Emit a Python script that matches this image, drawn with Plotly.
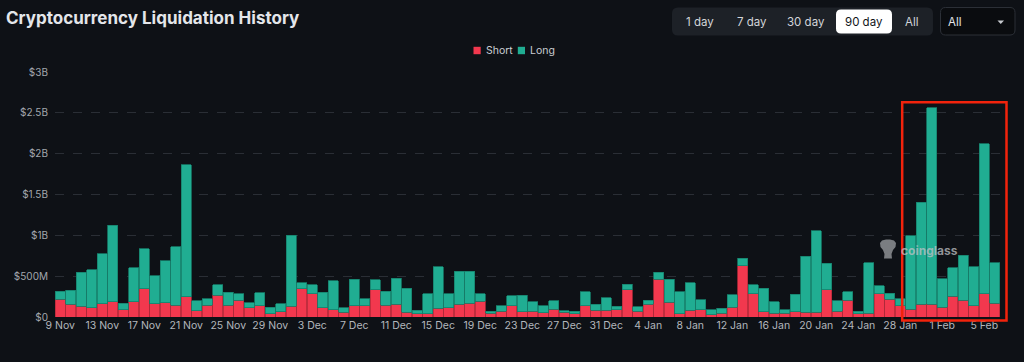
import pandas as pd
import plotly.graph_objects as go

# ---------------- data ----------------
dates = pd.date_range("2024-11-09", "2025-02-06", freq="D")

short_m = [216, 155, 131, 114, 163, 184, 90, 184, 343, 163, 176, 143, 249, 78, 143, 265,
           143, 204, 114, 135, 37, 65, 131, 343, 286, 114, 86, 61, 135, 135, 335, 143,
           159, 61, 41, 41, 110, 114, 159, 167, 192, 49, 73, 135, 65, 73, 53, 94,
           57, 37, 139, 82, 82, 90, 335, 69, 159, 461, 180, 41, 82, 86, 29, 45,
           118, 629, 286, 65, 49, 43, 63, 61, 61, 335, 73, 208, 41, 49, 286, 216,
           135, 94, 159, 159, 118, 257, 208, 139, 282, 171]

long_m = [102, 172, 416, 462, 609, 939, 81, 420, 490, 343, 510, 719, 1617, 118, 82, 131,
          163, 82, 62, 163, 81, 98, 873, 78, 106, 192, 359, 53, 326, 90, 122, 171,
          315, 294, 41, 245, 507, 168, 404, 396, 90, 20, 66, 126, 204, 115, 86, 106,
          21, 32, 171, 73, 151, 41, 69, 58, 45, 90, 285, 269, 339, 126, 61, 65,
          156, 90, 106, 286, 135, 43, 217, 686, 996, 322, 127, 102, 32, 617, 94, 74,
          90, 902, 1246, 2405, 352, 347, 551, 478, 1837, 495]

y_tick_vals = [0, 5e8, 1e9, 1.5e9, 2e9, 2.5e9, 3e9]
y_tick_text = ["$0", "$500M", "$1B", "$1.5B", "$2B", "$2.5B", "$3B"]

x_tick_text = ["9 Nov", "13 Nov", "17 Nov", "21 Nov", "25 Nov", "29 Nov", "3 Dec", "7 Dec",
               "11 Dec", "15 Dec", "19 Dec", "23 Dec", "27 Dec", "31 Dec", "4 Jan", "8 Jan",
               "12 Jan", "16 Jan", "20 Jan", "24 Jan", "28 Jan", "1 Feb", "5 Feb"]
x_tick_vals = list(dates[::4][:len(x_tick_text)])

series_names = ["Short", "Long"]
range_buttons = ["1 day", "7 day", "30 day", "90 day", "All"]

# ---------------- style ----------------
BG = "#0e1116"
RED = "#f2384e"
TEAL = "#20ad92"
GRID = "#2a2e35"
FONT = "Inter, Roboto, sans-serif"

W, H = 1024, 362
L, R, T, B = 55, 24, 72, 45
PW, PH = W - L - R, H - T - B


def px(x):
    return (x - L) / PW


def py(y):
    return (H - B - y) / PH


def rrect(x0, y0, x1, y1, r):
    pts = [("M", x0 + r, y0), ("L", x1 - r, y0), ("Q", x1, y0, x1, y0 + r),
           ("L", x1, y1 - r), ("Q", x1, y1, x1 - r, y1), ("L", x0 + r, y1),
           ("Q", x0, y1, x0, y1 - r), ("L", x0, y0 + r), ("Q", x0, y0, x0 + r, y0)]
    s = ""
    for p in pts:
        cmd = p[0]
        coords = p[1:]
        parts = []
        for i in range(0, len(coords), 2):
            parts.append(f"{px(coords[i]):.5f},{py(coords[i + 1]):.5f}")
        s += cmd + " ".join(parts) + " "
    return s + "Z"


def poly(points):
    s = "M" + " L".join(f"{px(a):.5f},{py(b):.5f}" for a, b in points)
    return s + " Z"


fig = go.Figure()
fig.add_trace(go.Bar(x=dates, y=[v * 1e6 for v in short_m], name=series_names[0],
                     marker=dict(color=RED, line=dict(color="#b52a3b", width=0.8)),
                     showlegend=False))
fig.add_trace(go.Bar(x=dates, y=[v * 1e6 for v in long_m], name=series_names[1],
                     marker=dict(color=TEAL, line=dict(color="#17806c", width=0.8)),
                     showlegend=False))

shapes = []
annotations = []

# Title
annotations.append(dict(text="<b>Cryptocurrency Liquidation History</b>", xref="paper", yref="paper",
                        x=px(4), y=py(18), xanchor="left", yanchor="middle", showarrow=False,
                        font=dict(family=FONT, size=17, color="#e4e6ea")))

# Range button group
shapes.append(dict(type="path", xref="paper", yref="paper", path=rrect(672, 7.5, 933, 35.5, 6),
                   fillcolor="#1d2127", line=dict(width=0), layer="above"))
shapes.append(dict(type="path", xref="paper", yref="paper", path=rrect(836, 9.5, 892, 33.5, 5),
                   fillcolor="#ffffff", line=dict(width=0), layer="above"))
btn_cx = [700, 751.7, 806, 864, 911.7]
for label, cx in zip(range_buttons, btn_cx):
    annotations.append(dict(text=label, xref="paper", yref="paper", x=px(cx), y=py(22),
                            xanchor="center", yanchor="middle", showarrow=False,
                            font=dict(family=FONT, size=11.5,
                                      color="#111418" if label == "90 day" else "#d2d5da")))

# Dropdown
shapes.append(dict(type="path", xref="paper", yref="paper", path=rrect(940.5, 7.5, 1015, 35, 5),
                   fillcolor="#0a0c0f", line=dict(color="#2c3037", width=1), layer="above"))
annotations.append(dict(text="All", xref="paper", yref="paper", x=px(945.5), y=py(22),
                        xanchor="left", yanchor="middle", showarrow=False,
                        font=dict(family=FONT, size=11.5, color="#e4e6ea")))
shapes.append(dict(type="path", xref="paper", yref="paper",
                   path=poly([(997.5, 20.5), (1004, 20.5), (1000.75, 24)]),
                   fillcolor="#c8cbd0", line=dict(width=0), layer="above"))

# Custom legend
for name, col, sx, tx in [(series_names[0], RED, 473.5, 484), (series_names[1], TEAL, 517.8, 528)]:
    shapes.append(dict(type="rect", xref="paper", yref="paper",
                       x0=px(sx), x1=px(sx + 7.2), y0=py(46.8), y1=py(54.2),
                       fillcolor=col, line=dict(width=0), layer="above"))
    annotations.append(dict(text=name, xref="paper", yref="paper", x=px(tx), y=py(50.5),
                            xanchor="left", yanchor="middle", showarrow=False,
                            font=dict(family=FONT, size=10.5, color="#c9cdd2")))

# Watermark
annotations.append(dict(text="<b>coinglass</b>", xref="paper", yref="paper", x=px(898.5), y=py(250.5),
                        xanchor="left", yanchor="middle", showarrow=False,
                        font=dict(family=FONT, size=12, color="rgba(190,192,196,0.75)")))
shapes.append(dict(type="path", xref="paper", yref="paper",
                   path=poly([(880, 243), (882, 240.5), (886, 239.5), (890, 239.5), (894, 240.5),
                              (896, 243), (895.5, 247), (893, 250), (891.5, 254), (892, 258.5),
                              (884, 258.5), (884.5, 254), (883, 250), (880.5, 247)]),
                   fillcolor="rgba(150,152,156,0.8)", line=dict(width=0), layer="above"))

# Highlight box
shapes.append(dict(type="rect", xref="paper", yref="paper",
                   x0=px(902.2), x1=px(1006.5), y0=py(320.5), y1=py(102.2),
                   fillcolor="rgba(0,0,0,0)", line=dict(color="#f2230c", width=2.5), layer="above"))

fig.update_layout(
    width=W, height=H,
    margin=dict(l=L, r=R, t=T, b=B),
    paper_bgcolor=BG, plot_bgcolor=BG,
    barmode="stack", bargap=0.07,
    showlegend=False,
    shapes=shapes, annotations=annotations,
    font=dict(family=FONT, color="#a3a7ad"),
)
fig.update_xaxes(type="date", range=["2024-11-08 12:00", "2025-02-06 12:00"],
                 tickmode="array", tickvals=x_tick_vals, ticktext=x_tick_text,
                 showgrid=False, zeroline=False, showline=False, ticks="",
                 tickfont=dict(family=FONT, size=10.5, color="#b3b7bd"))
fig.update_yaxes(range=[0, 3e9], tickmode="array", tickvals=y_tick_vals, ticktext=y_tick_text,
                 showgrid=True, gridcolor=GRID, griddash="dash", gridwidth=1,
                 zeroline=False, showline=False, ticks="", ticklabelstandoff=6,
                 tickfont=dict(family=FONT, size=10, color="#a3a7ad"))

fig.write_html("out.html", config={"displayModeBar": False},
               post_script="document.body.style.margin='0';document.body.style.background='%s';" % BG)
